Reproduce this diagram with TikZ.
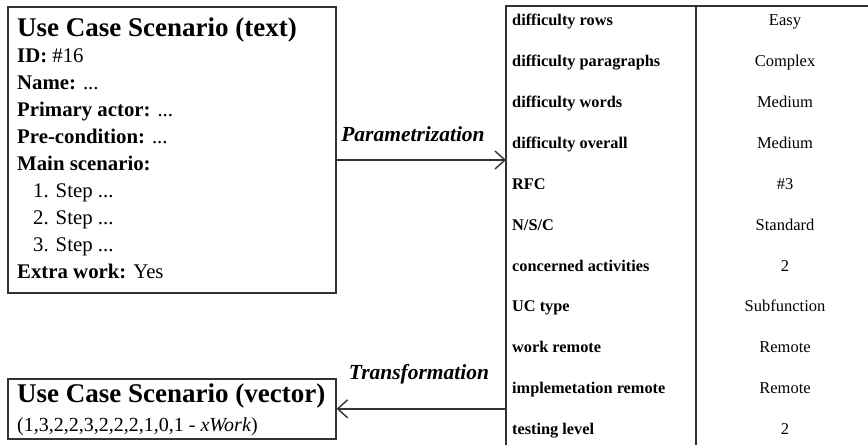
\documentclass[tikz,border=0pt]{standalone}
\usepackage{fontspec}
\setmainfont{Liberation Serif}
\usetikzlibrary{arrows.meta}
\begin{document}
\begin{tikzpicture}[x=1pt,y=-1pt,
  frame/.style={draw=black!80, line width=1.6pt, inner sep=0pt, anchor=north west},
  rule/.style={draw=black!80, line width=1.6pt},
  link/.style={draw=black!80, line width=1.4pt,
    -{Straight Barb[length=10pt,width=18pt,line width=1.4pt]}},
  title/.style={anchor=base west, inner sep=0pt, font=\fontsize{27}{27}\selectfont\bfseries},
  entry/.style={anchor=base west, inner sep=0pt, font=\fontsize{20.8}{21}\selectfont},
  caption/.style={anchor=base, inner sep=0pt, font=\fontsize{21.5}{22}\selectfont\bfseries\itshape},
  key/.style={anchor=base west, inner sep=0pt, font=\fontsize{16.3}{17}\selectfont\bfseries},
  val/.style={anchor=base, inner sep=0pt, font=\fontsize{16.5}{17}\selectfont}
]
\useasboundingbox (0,0) rectangle (868,445);

% textual use case box
\node[frame, minimum width=328pt, minimum height=286pt] (textbox) at (7,6) {};
\node[title] (t0) at (17,36) {Use Case Scenario (text)};
\node[entry] (t1) at (17,62) {\textbf{ID:} \#16};
\node[entry] (t2) at (17,89) {\textbf{Name:} ...};
\node[entry] (t3) at (17,116) {\textbf{Primary actor:} ...};
\node[entry] (t4) at (17,143) {\textbf{Pre-condition:} ...};
\node[entry] (t5) at (17,170) {\textbf{Main scenario:}};
\node[entry] (t6) at (33,197) {1. Step ...};
\node[entry] (t7) at (33,224) {2. Step ...};
\node[entry] (t8) at (33,251) {3. Step ...};
\node[entry] (t9) at (17,278) {\textbf{Extra work:} Yes};

% vector box
\node[frame, minimum width=328pt, minimum height=60pt] (vecbox) at (7,378) {};
\node[title] (v0) at (17,402) {Use Case Scenario (vector)};
\node[entry, font=\fontsize{20}{20}\selectfont] (v1) at (17,431) {(1,3,2,2,3,2,2,2,1,0,1 - \textit{xWork})};

% parameter table
\node[inner sep=0pt, anchor=north west, minimum width=362pt, minimum height=439pt] (tbl) at (506,6) {};
\draw[rule] (tbl.south west) -- (tbl.north west) -- (tbl.north east);
\coordinate (divtop) at (696,6);
\draw[rule] (divtop) -- (divtop |- tbl.south);

\foreach \k/\v [count=\i from 0] in {difficulty rows/Easy, difficulty paragraphs/Complex,
    difficulty words/Medium, difficulty overall/Medium, RFC/\#3, {N/S/C}/Standard,
    concerned activities/2, UC type/Subfunction, work remote/Remote,
    implemetation remote/Remote, testing level/2} {
  \node[key] (row\i) at (512, 25.6+40.9*\i) {\k};
  \node[val] (val\i) at (785, 25.6+40.9*\i) {\v};
}

% transitions
\coordinate (pin) at (506,160);
\draw[link] (textbox.east |- pin) -- (pin);
\node[caption] (plabel) at (413,141) {Parametrization};

\draw[link] (tbl.west |- vecbox.east) -- (vecbox.east);
\node[caption] (tlabel) at (419,379) {Transformation};
\end{tikzpicture}
\end{document}
